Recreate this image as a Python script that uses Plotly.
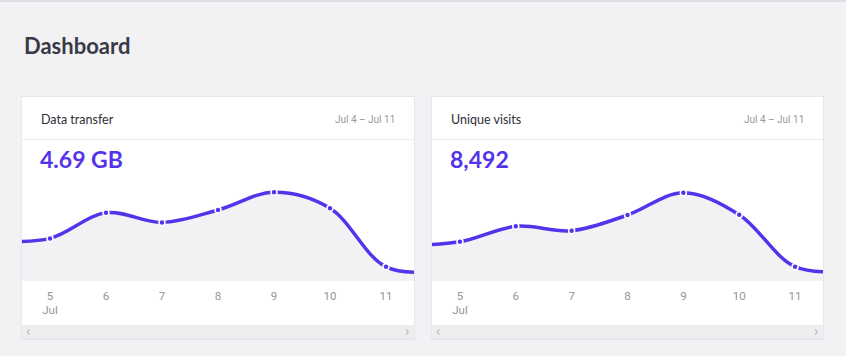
import plotly.graph_objects as go

W, H = 846, 356

# ---- data ----
days = ["2024-07-04", "2024-07-05", "2024-07-06", "2024-07-07", "2024-07-08",
        "2024-07-09", "2024-07-10", "2024-07-11", "2024-07-12"]
transfer_gb = [0.45, 0.48, 0.77, 0.66, 0.80, 1.00, 0.82, 0.16, 0.11]
unique_visits = [800, 880, 1225, 1126, 1478, 1977, 1485, 321, 230]
tick_days = ["2024-07-05", "2024-07-06", "2024-07-07", "2024-07-08",
             "2024-07-09", "2024-07-10", "2024-07-11"]
tick_labels = ["5<br>Jul", "6", "7", "8", "9", "10", "11"]
card_titles = ["Data transfer", "Unique visits"]
card_totals = ["4.69 GB", "8,492"]
date_range_label = "Jul 4 – Jul 11"
page_title = "Dashboard"

ACCENT = "#5533ea"
BG = "#f2f2f5"


def px(x):
    return x / W


def py(y):
    return 1 - y / H


cards_x = [(22, 414), (432, 823)]
card_top, card_bottom = 97, 338
plot_top, plot_bottom = 185, 281

fig = go.Figure()
series = [transfer_gb, unique_visits]
yranges = [[0, 1.082], [0, 2150]]

shapes = []
annotations = []

for i, (x0, x1) in enumerate(cards_x):
    n = "" if i == 0 else str(i + 1)
    fig.add_trace(go.Scatter(
        x=days, y=series[i], mode="lines+markers",
        line=dict(color=ACCENT, width=3.5, shape="spline", smoothing=1.0),
        marker=dict(size=6, color=ACCENT, line=dict(color="white", width=1.5)),
        fill="tozeroy", fillcolor=BG,
        xaxis="x" + n, yaxis="y" + n, showlegend=False, hoverinfo="x+y",
    ))
    fig.layout["xaxis" + n] = dict(
        domain=[px(x0), px(x1)], anchor="y" + n,
        range=["2024-07-04 12:00", "2024-07-11 12:00"],
        tickvals=tick_days, ticktext=tick_labels,
        showgrid=False, zeroline=False, showline=False, ticks="",
        ticklabelstandoff=6,
        tickfont=dict(family="Roboto", size=11.5, color="#959595"),
        fixedrange=True,
    )
    fig.layout["yaxis" + n] = dict(
        domain=[py(plot_bottom), py(plot_top)], anchor="x" + n,
        range=yranges[i], visible=False, fixedrange=True,
    )
    # card shadow + card
    shapes.append(dict(type="rect", xref="paper", yref="paper",
                       x0=px(x0 - 1), x1=px(x1 + 1), y0=py(card_bottom + 2), y1=py(card_top - 1),
                       fillcolor="#e6e6ec", line=dict(width=0), layer="below"))
    shapes.append(dict(type="rect", xref="paper", yref="paper",
                       x0=px(x0), x1=px(x1), y0=py(card_bottom), y1=py(card_top),
                       fillcolor="white", line=dict(width=0), layer="below"))
    # header divider
    shapes.append(dict(type="line", xref="paper", yref="paper",
                       x0=px(x0), x1=px(x1), y0=py(139.5), y1=py(139.5),
                       line=dict(color="#f0f0f3", width=1.5), layer="below"))
    # scrollbar
    shapes.append(dict(type="rect", xref="paper", yref="paper",
                       x0=px(x0), x1=px(x1), y0=py(338), y1=py(325),
                       fillcolor="#eeeeee", line=dict(width=0), layer="above"))
    annotations += [
        dict(text=card_titles[i], x=px(x0 + 17), y=py(119), xref="paper", yref="paper",
             xanchor="left", yanchor="middle", showarrow=False,
             font=dict(family="Lato", size=12.5, color="#2e2e38")),
        dict(text=date_range_label, x=px(x1 - 17), y=py(119), xref="paper", yref="paper",
             xanchor="right", yanchor="middle", showarrow=False,
             font=dict(family="Roboto", size=10, color="#999999")),
        dict(text="<b>" + card_totals[i] + "</b>", x=px(x0 + 16), y=py(159), xref="paper", yref="paper",
             xanchor="left", yanchor="middle", showarrow=False,
             font=dict(family="Lato", size=23, color=ACCENT)),
        dict(text="‹", x=px(x0 + 6), y=py(331), xref="paper", yref="paper",
             xanchor="center", yanchor="middle", showarrow=False,
             font=dict(family="Roboto", size=14, color="#b8b8b8")),
        dict(text="›", x=px(x1 - 7), y=py(331), xref="paper", yref="paper",
             xanchor="center", yanchor="middle", showarrow=False,
             font=dict(family="Roboto", size=14, color="#b8b8b8")),
    ]

# top border line
shapes.append(dict(type="rect", xref="paper", yref="paper",
                   x0=0, x1=1, y0=py(2), y1=1, fillcolor="#dedee2", line=dict(width=0), layer="below"))

annotations.append(dict(text="<b>" + page_title + "</b>", x=px(22), y=py(45), xref="paper", yref="paper",
                        xanchor="left", yanchor="middle", showarrow=False,
                        font=dict(family="Lato", size=22, color="#3a3946")))

fig.update_layout(
    width=W, height=H, margin=dict(l=0, r=0, t=0, b=0),
    paper_bgcolor=BG, plot_bgcolor="white",
    shapes=shapes, annotations=annotations,
)

fig.write_html("out.html", config={"displayModeBar": False},
               post_script="document.body.style.margin='0';document.body.style.overflow='hidden';")
